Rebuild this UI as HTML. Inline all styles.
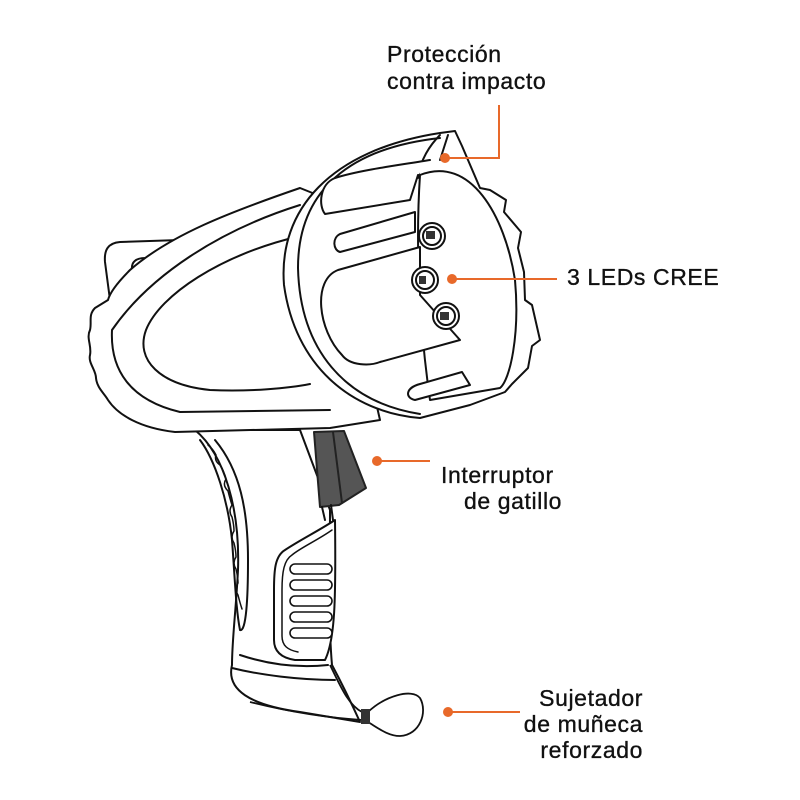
<!DOCTYPE html>
<html><head><meta charset="utf-8"><style>
html,body{margin:0;padding:0;background:#fff;}
svg{display:block;}
text{font-family:"Liberation Sans",sans-serif;font-size:23px;fill:#111;letter-spacing:0.6px;stroke:#111;stroke-width:0.35px;}
</style></head><body>
<svg width="800" height="800" viewBox="0 0 800 800" xmlns="http://www.w3.org/2000/svg">
<g fill="#fff" stroke="#111" stroke-width="2" stroke-linejoin="round" stroke-linecap="round">
<path d="M180,240 L120,242 C108,243 104,250 105,262 L110,300 L135,300 L132,270 C131,262 136,258 145,258 L190,256 Z"/>
<path d="M195,430 C225,455 240,510 238,570 C236,610 232,640 232,665 C226,690 250,705 300,712 L360,722 C350,700 340,680 332,665 C328,620 330,560 330,510 L300,430 Z"/>
<path d="M232,668 C260,675 300,680 335,680" fill="none"/>
<path d="M240,655 C270,665 300,668 328,665" fill="none"/>
<path d="M200,440 C215,460 228,500 232,540 C235,580 236,610 240,630 C246,632 248,600 248,560 C248,510 240,470 215,440" fill="none"/>
<path d="M208,445 q5,4 8,10 q-2,6 4,10 q4,6 6,14 q-4,6 2,12 q2,8 4,14 q-4,6 0,12 q2,8 2,14 q-4,6 0,12 q2,8 2,14 q-4,6 0,12 q2,8 2,14 q-4,6 0,12 q2,8 4,14" fill="none" stroke-width="1.5"/>
<path d="M335,520 C320,530 300,540 285,550 C275,556 274,570 274,590 L274,640 C274,652 282,658 295,660 L325,660 C335,640 336,600 335,520 Z"/>
<path d="M332,530 C318,540 300,548 292,555 C284,560 282,572 282,590 L282,636 C282,646 288,650 298,652" fill="none" stroke-width="1.5"/>
<g fill="#fff" stroke-width="1.6">
<rect x="290" y="564" width="42" height="10" rx="5"/>
<rect x="290" y="580" width="42" height="10" rx="5"/>
<rect x="290" y="596" width="42" height="10" rx="5"/>
<rect x="290" y="612" width="42" height="10" rx="5"/>
<rect x="290" y="628" width="42" height="10" rx="5"/>
</g>
<path d="M314,432 L344,431 L366,488 L339,505 L320,507 Z" fill="#555" stroke="#222"/>
<path d="M333,432 L342,503" fill="none" stroke="#222"/>
<path d="M322,507 L325,520 M331,505 L333,520" fill="none"/>
<path d="M300,188 C230,212 170,235 130,270 C118,282 110,292 108,300 L95,308 C88,315 92,322 90,330 C86,338 92,346 90,355 C88,363 96,370 96,378 C97,388 104,393 108,400 C118,415 140,428 175,432 L330,428 L380,420 L330,200 Z"/>
<path d="M300,205 C220,230 150,275 112,330 C110,370 130,400 180,412 L330,410" fill="none"/>
<path d="M300,236 C220,255 160,295 146,330 C135,360 160,385 210,390 C250,392 290,388 310,384" fill="none"/>
<path d="M440,133 L455,131 L462,146 L480,188 L490,190 L506,200 L504,212 L521,232 L518,248 L524,272 L525,300 L532,305 L540,340 L532,346 L528,368 L512,384 L505,392 L470,405 L420,418 C350,412 295,365 284,285 C278,210 330,150 440,133 Z"/>
<path d="M440,138 C350,148 298,190 298,268 C300,350 345,402 420,414" fill="none"/>
<path d="M420,175 C470,155 505,215 515,280 C520,335 510,380 500,388 L430,400 C420,330 415,250 420,175 Z"/>
<path d="M440,135 C430,145 420,160 418,178" fill="none"/>
<path d="M448,135 L440,160" fill="none"/>
<path d="M430,160 C400,165 360,170 335,178 C320,184 318,205 325,214 L410,200 L418,175" />
<path d="M415,212 L340,234 C332,238 333,250 340,252 L415,232 Z"/>
<path d="M420,247 L338,270 C312,280 318,330 342,355 C350,366 370,366 380,362 L460,340 L420,295 Z"/>
<path d="M462,372 L420,384 C405,388 405,398 415,400 L470,385 Z"/>
<circle cx="432" cy="236" r="13"/><circle cx="432" cy="236" r="9"/>
<circle cx="425" cy="280" r="13"/><circle cx="425" cy="280" r="9"/>
<circle cx="446" cy="316" r="13"/><circle cx="446" cy="316" r="9"/>
</g>
<rect x="426" y="231" width="9" height="8" fill="#333"/>
<rect x="419" y="276" width="7" height="8" fill="#333"/>
<rect x="440" y="312" width="9" height="8" fill="#333"/>
<g fill="none" stroke="#111" stroke-width="1.8">
<path d="M330,665 C340,685 348,705 362,712"/>
<path d="M250,702 C290,712 330,718 362,720"/>
<path d="M368,712 C385,696 412,688 420,698 C428,712 420,735 400,736 C388,736 378,728 368,722"/>
</g>
<rect x="361" y="709" width="9" height="15" fill="#333"/>
<g stroke="#e8692a" stroke-width="2" fill="none">
<path d="M445,158 L499,158 L499,105"/>
<path d="M452,279 L557,279"/>
<path d="M377,461 L430,461"/>
<path d="M448,712 L520,712"/>
</g>
<g fill="#e8692a">
<circle cx="445" cy="158" r="5"/><circle cx="452" cy="279" r="5"/>
<circle cx="377" cy="461" r="5"/><circle cx="448" cy="712" r="5"/>
</g>
<text x="387" y="62">Protección</text>
<text x="387" y="89">contra impacto</text>
<text x="567" y="285">3 LEDs CREE</text>
<text x="441" y="483">Interruptor</text>
<text x="464" y="509">de gatillo</text>
<text x="643" y="706" text-anchor="end">Sujetador</text>
<text x="643" y="732" text-anchor="end">de muñeca</text>
<text x="643" y="758" text-anchor="end">reforzado</text>
</svg>
</body></html>
